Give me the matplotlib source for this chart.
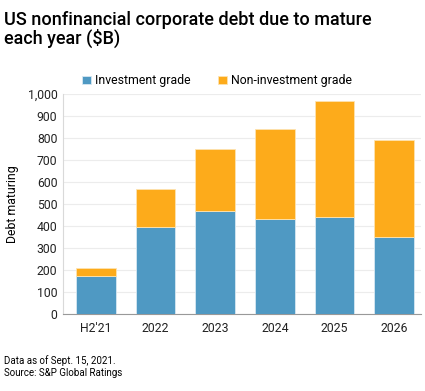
import matplotlib.pyplot as plt
from matplotlib.ticker import FuncFormatter

years = ["H2'21", '2022', '2023', '2024', '2025', '2026']
investment_grade = [173, 397, 466, 430, 442, 350]
non_investment_grade = [36, 173, 286, 413, 526, 440]

blue = '#4f99c3'
orange = '#fdab1b'

plt.rcParams['font.family'] = ['Roboto', 'DejaVu Sans']

fig = plt.figure(figsize=(4.25, 3.91), dpi=100)
ax = fig.add_axes([63 / 425, 1 - 314 / 391, 358 / 425, 220 / 391])

ax.bar(years, investment_grade, width=0.66, color=blue, edgecolor='#d8e8f2',
       linewidth=0.6, label='Investment grade', zorder=3)
ax.bar(years, non_investment_grade, bottom=investment_grade, width=0.66, color=orange,
       edgecolor='#fde3b0', linewidth=0.6, label='Non-investment grade', zorder=3)

ax.set_ylim(0, 1000)
ax.set_yticks(range(0, 1001, 100))
ax.yaxis.set_major_formatter(FuncFormatter(lambda v, p: '{:,.0f}'.format(v)))
ax.set_xlim(-0.55, 5.45)
ax.grid(axis='y', color='#ececec', linewidth=0.8, zorder=0)
ax.tick_params(axis='both', length=0, labelsize=8.8, colors='#222222', pad=4)
ax.tick_params(axis='x', pad=6)
for side in ['top', 'right']:
    ax.spines[side].set_visible(False)
ax.spines['left'].set_color('#d9d9d9')
ax.spines['bottom'].set_color('#999999')
ax.set_ylabel('Debt maturing', fontsize=8.8, labelpad=6)

fig.text(0.01, 1 - 11 / 391, 'US nonfinancial corporate debt due to mature\neach year ($B)',
         fontsize=13, fontweight='medium', va='top', ha='left', linespacing=1.0)

ax.legend(loc='upper center', bbox_to_anchor=(0.43, 1.14), ncol=2, frameon=False,
          fontsize=8.8, handlelength=0.7, handleheight=0.7, handletextpad=0.3,
          columnspacing=2.3)

fig.text(0.01, 1 - 355 / 391, 'Data as of Sept. 15, 2021.\nSource: S&P Global Ratings',
         fontsize=7, va='top', ha='left', linespacing=1.3)

fig.savefig('out.png', dpi=100)
